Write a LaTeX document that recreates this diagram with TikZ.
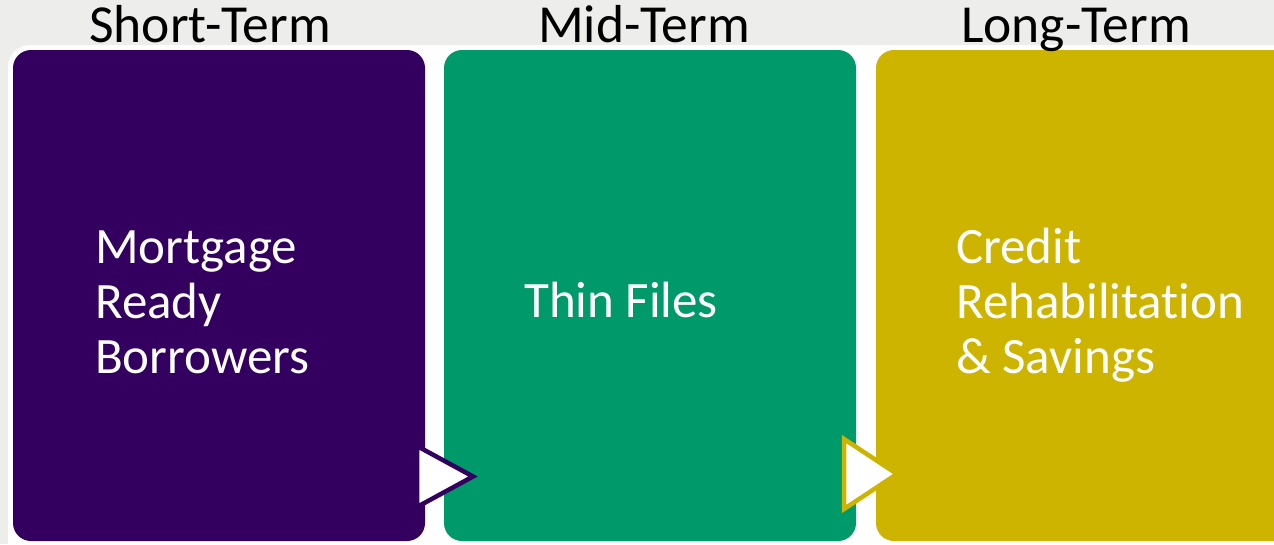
\documentclass[tikz,border=0pt]{standalone}
\usepackage{fontspec}
\setmainfont[RawFeature={-liga}]{Carlito}
\definecolor{bggray}{RGB}{237,237,235}
\definecolor{bpurple}{RGB}{51,0,96}
\definecolor{bgreen}{RGB}{0,153,106}
\definecolor{bgold}{RGB}{204,180,0}
\begin{document}
\begin{tikzpicture}[x=1pt,y=-1pt,
  box/.style={rounded corners=18pt},
  heading/.style={anchor=base,inner sep=0pt,font=\fontsize{53.5}{58}\selectfont,text=black},
  body/.style={anchor=base west,inner sep=0pt,font=\fontsize{51}{55}\selectfont,text=white},
  arrowtri/.style={fill=white,line width=4.5pt,line join=miter}]
\useasboundingbox (0,0) rectangle (1274,544);
\fill[bggray] (0,0) rectangle (1274,544);
% white underlay
\fill[white,rounded corners=22pt] (8,45) rectangle (1300,570);
% boxes
\fill[bpurple,box] (13,50) rectangle (425,541);
\fill[bgreen,box] (444,50) rectangle (856,541);
\fill[bgold,box] (876,50) rectangle (1300,541);
% headings
\node[heading] (h1) at (210,42) {Short-Term};
\node[heading] (h2) at (644,42) {Mid-Term};
\node[heading] (h3) at (1076,42) {Long-Term};
% body texts
\node[body] (t1) at (95,263) {\vtop{\baselineskip=55pt\hbox{Mortgage}\hbox{Ready}\hbox{Borrowers}}};
\node[body] (t2) at (524,317) {Thin Files};
\node[body] (t3) at (956,263) {\vtop{\baselineskip=55pt\hbox{Credit}\hbox{Rehabilitation}\hbox{\& Savings}}};
% arrows
\coordinate (a1) at (417,446);
\coordinate (b1) at (417,507);
\coordinate (c1) at (473,476.5);
\draw[arrowtri,draw=bpurple] (a1) -- (c1) -- (b1) -- cycle;
\coordinate (a2) at (844,439);
\coordinate (b2) at (844,509);
\coordinate (c2) at (897,474);
\draw[arrowtri,draw=bgold] (a2) -- (c2) -- (b2) -- cycle;
\end{tikzpicture}
\end{document}
